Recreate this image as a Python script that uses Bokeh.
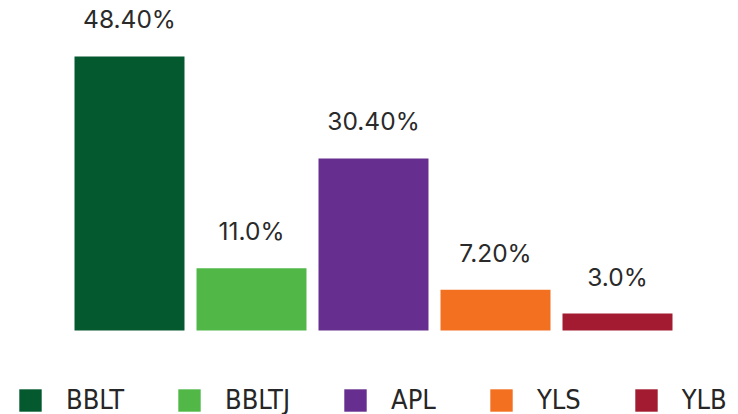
from bokeh.plotting import figure
from bokeh.models import ColumnDataSource, Legend, LegendItem, Range1d
from bokeh.embed import file_html
from bokeh.resources import INLINE
from bokeh.core.properties import value

categories = ["BBLT", "BBLTJ", "APL", "YLS", "YLB"]
shares = [48.4, 11.0, 30.4, 7.2, 3.0]
share_labels = ["48.40%", "11.0%", "30.40%", "7.20%", "3.0%"]
colors = ["#04592F", "#51B848", "#662E8E", "#F37021", "#A21B30"]
positions = list(range(len(categories)))

source = ColumnDataSource(dict(x=positions, top=shares, cat=categories,
                               color=colors, lab=share_labels))

p = figure(width=738, height=414, output_backend="svg", toolbar_location=None,
           x_range=Range1d(-1.0574, 4.9918), y_range=Range1d(-14.838, 58.29),
           x_axis_location=None, y_axis_location=None, min_border=0)
p.grid.visible = False
p.outline_line_color = None

r = p.vbar(x="x", top="top", bottom=0, width=0.9016, fill_color="color",
           line_color=None, source=source)

p.text(x="x", y="top", text="lab", source=source, text_align="center",
       text_baseline="alphabetic", y_offset=-37, text_font=value("Inter"),
       text_font_size="24.5px", text_color="#2a2a2a")

items = [LegendItem(label=c, renderers=[r], index=i) for i, c in enumerate(categories)]
legend = Legend(items=items, orientation="horizontal", location=(16, -1),
                glyph_width=28, glyph_height=28, label_standoff=22, spacing=51,
                padding=0, margin=0, border_line_alpha=0, background_fill_alpha=0,
                label_text_font="'Liberation Sans Narrow', 'DejaVu Sans Condensed', Roboto",
                label_text_font_size="27px", label_text_color="#262626",
                label_height=28)
p.add_layout(legend)

open("out.html", "w").write(file_html(p, INLINE))
